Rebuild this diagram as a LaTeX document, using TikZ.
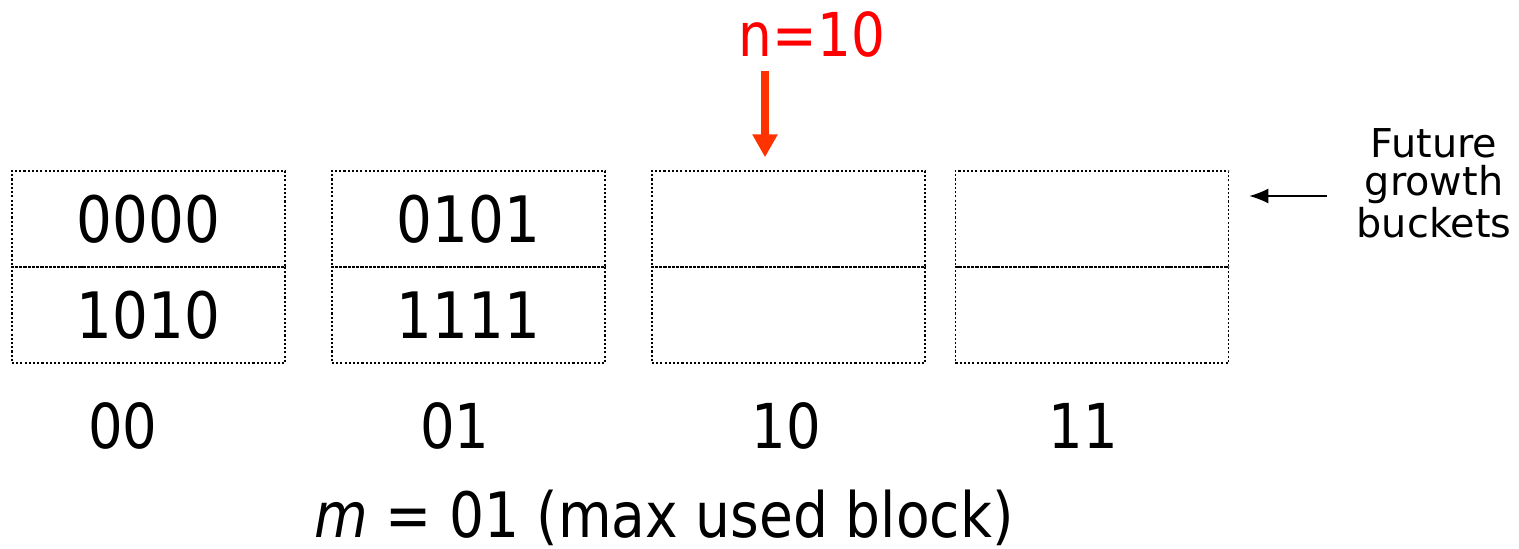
\documentclass[tikz,border=0pt]{standalone}
\usepackage{fontspec}
\setmainfont[FakeStretch=0.88]{DejaVu Sans}
\newfontfamily\plainsans{DejaVu Sans}
\usepackage{tikz}
\usetikzlibrary{arrows.meta}
\definecolor{nred}{RGB}{255,0,0}
\definecolor{arrowred}{RGB}{255,51,0}

\begin{document}
\begin{tikzpicture}[x=0.01cm, y=-0.01cm,
    cell/.style={draw, dash pattern=on 0.6pt off 0.6pt, line width=0.4pt,
        minimum width=2.73cm, minimum height=0.96cm, inner sep=0pt,
        font=\fontsize{18.2}{22}\selectfont},
    slot/.style={anchor=base, inner sep=0pt, font=\fontsize{17.6}{21}\selectfont}]
    \useasboundingbox (0,0) rectangle (1519,548);

    % the four buckets, upper and lower half
    \foreach \x/\lx/\up/\low/\lab in {148.5/123/0000/1010/00, 468.5/455/0101/1111/01,
                                      788.5/786/{}/{}/10, 1092/1083/{}/{}/11} {
        \node[cell] (top\lab) at (\x,219) {\up};
        \node[cell] (bot\lab) at (\x,315) {\low};
        \node[slot] (num\lab) at (\lx,448) {\lab};
    }

    \node[anchor=base, inner sep=0pt, font=\fontsize{17.8}{21}\selectfont] (maxused)
        at (664,537) {\textit{m} = 01 (max used block)};

    % next bucket to split
    \node[anchor=base, inner sep=0pt, text=nred, font=\fontsize{17.2}{20}\selectfont]
        (nval) at (812,56) {n=10};
    \coordinate (ntail) at (765,71);
    \draw[arrowred, line width=2.3pt, -{Triangle[length=2.3mm,width=2.4mm]}, shorten >=1.3mm]
        (ntail) -- (ntail |- top10.north);

    % future growth
    \node[align=center, inner sep=0pt, font=\plainsans\fontsize{11.3}{10.9}\selectfont]
        (future) at (1434,183) {Future\\growth\\buckets};
    \draw[line width=0.4pt, -{Latex[length=1.9mm,width=1.5mm]}, shorten <=2.9mm, shorten >=2mm]
        ([yshift=-1.3mm]future.west) -- ([yshift=-1.3mm]future.west -| top11.east);
\end{tikzpicture}
\end{document}
